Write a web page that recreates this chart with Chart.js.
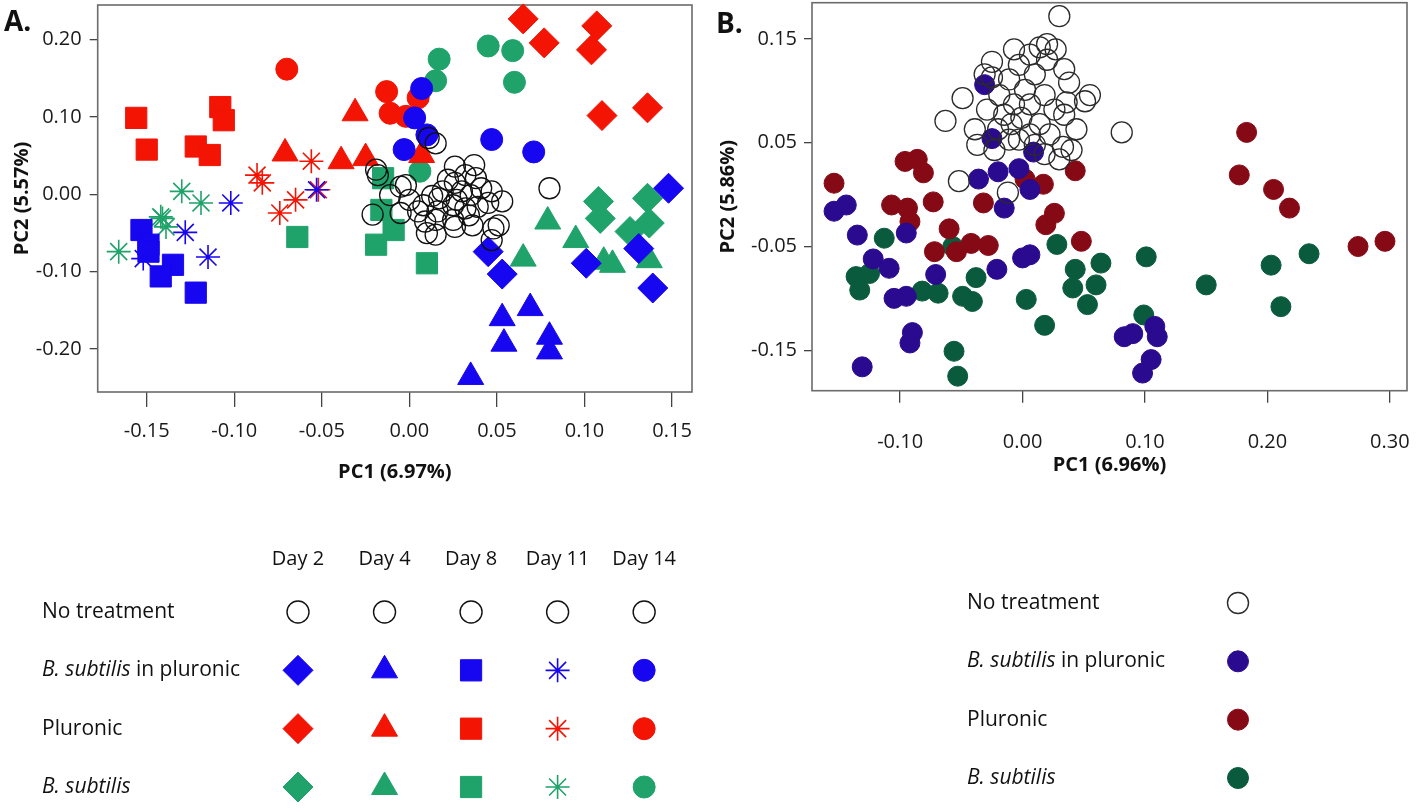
<!DOCTYPE html>
<html>
<head>
<meta charset="utf-8">
<script src="https://cdn.jsdelivr.net/npm/chart.js@4.4.0/dist/chart.umd.min.js"></script>
<style>
  html, body { margin: 0; padding: 0; background: #fff; }
  #page { position: relative; width: 1418px; height: 809px; overflow: hidden; }
  canvas { position: absolute; }
  .tag { position: absolute; font: bold 28px "Open Sans", sans-serif; line-height: 28px; color: #111; }
</style>
</head>
<body>
<div id="page">
  <canvas id="chartA" width="700" height="500" style="left:0;top:0"></canvas>
  <canvas id="chartB" width="718" height="500" style="left:700px;top:0"></canvas>
  <canvas id="legendA" width="709" height="309" style="left:0;top:500px"></canvas>
  <canvas id="legendB" width="518" height="269" style="left:900px;top:540px"></canvas>
  <div class="tag" style="left:4px;top:6px">A.</div>
  <div class="tag" style="left:716px;top:8px">B.</div>
</div>
<script>
const days = ["Day 2", "Day 4", "Day 8", "Day 11", "Day 14"];
const treatments = ["No treatment", "B. subtilis in pluronic", "Pluronic", "B. subtilis"];
const ticksAX = [-0.15, -0.10, -0.05, 0.00, 0.05, 0.10, 0.15];
const ticksAY = [0.20, 0.10, 0.00, -0.10, -0.20];
const ticksBX = [-0.10, 0.00, 0.10, 0.20, 0.30];
const ticksBY = [0.15, 0.05, -0.05, -0.15];

// Panel A scores, [PC1, PC2]
const aNoTreatment = [
  [0.015, 0.066], [0.011, 0.073], [-0.019, 0.032], [-0.018, 0.025], [-0.011, -0.001],
  [-0.005, 0.010], [-0.002, 0.012], [-0.021, -0.026], [-0.005, -0.024], [0.008, -0.014],
  [0.026, 0.036], [0.037, 0.038], [0.032, 0.025], [0.038, 0.021], [0.026, 0.015],
  [0.022, 0.019], [0.019, 0.004], [0.017, -0.005], [0.030, 0.004], [0.041, 0.008],
  [0.047, 0.004], [0.053, -0.009], [0.016, -0.022], [0.025, -0.014], [0.032, -0.018],
  [0.039, -0.016], [0.045, -0.011], [0.009, -0.035], [0.015, -0.033], [0.025, -0.033],
  [0.034, -0.027], [0.036, -0.040], [0.010, -0.050], [0.015, -0.052], [0.026, -0.042],
  [0.048, -0.044], [0.051, -0.040], [0.080, 0.008], [0.047, -0.059], [0.005, -0.022],
  [0.000, -0.007], [0.013, -0.002], [0.027, -0.007], [0.035, -0.001]
];
const aBspDay2 = [[0.148, 0.008], [0.045, -0.074], [0.053, -0.103], [0.101, -0.089], [0.131, -0.070], [0.139, -0.121]];
const aBspDay4 = [[0.069, -0.147], [0.053, -0.160], [0.054, -0.193], [0.080, -0.184], [0.080, -0.203], [0.035, -0.236]];
const aBspDay8 = [[-0.153, -0.046], [-0.149, -0.065], [-0.149, -0.074], [-0.135, -0.091], [-0.142, -0.106], [-0.122, -0.127]];
const aBspDay11 = [[-0.053, 0.006], [-0.102, -0.011], [-0.128, -0.049], [-0.115, -0.081], [-0.152, -0.083]];
const aBspDay14 = [[0.007, 0.137], [0.003, 0.099], [0.010, 0.077], [-0.003, 0.058], [0.047, 0.071], [0.071, 0.055]];
const aPluDay2 = [[0.065, 0.227], [0.077, 0.196], [0.107, 0.218], [0.104, 0.187], [0.110, 0.102], [0.136, 0.112]];
const aPluDay4 = [[-0.071, 0.053], [-0.031, 0.105], [-0.039, 0.043], [-0.025, 0.047], [0.007, 0.051]];
const aPluDay8 = [[-0.156, 0.099], [-0.150, 0.058], [-0.108, 0.113], [-0.106, 0.096], [-0.122, 0.062], [-0.114, 0.051]];
const aPluDay11 = [[-0.087, 0.025], [-0.084, 0.015], [-0.056, 0.043], [-0.074, -0.024], [-0.065, -0.007], [-0.052, 0.006]];
const aPluDay14 = [[-0.070, 0.162], [-0.013, 0.133], [-0.011, 0.105], [-0.002, 0.101], [0.005, 0.125]];
const aBsDay2 = [[0.108, -0.009], [0.109, -0.031], [0.136, -0.005], [0.137, -0.037], [0.126, -0.048]];
const aBsDay4 = [[0.079, -0.035], [0.095, -0.059], [0.065, -0.083], [0.111, -0.087], [0.116, -0.091], [0.137, -0.085]];
const aBsDay8 = [[-0.064, -0.055], [-0.015, 0.021], [-0.016, -0.020], [-0.009, -0.046], [-0.019, -0.065], [0.010, -0.089]];
const aBsDay11 = [[-0.130, 0.004], [-0.119, -0.011], [-0.141, -0.031], [-0.139, -0.042], [-0.166, -0.074], [-0.142, -0.029]];
const aBsDay14 = [[0.017, 0.175], [0.015, 0.147], [0.045, 0.192], [0.059, 0.186], [0.060, 0.145], [0.006, 0.030]];

// Panel B scores, [PC1, PC2]
const bNoTreatment = [
  [0.030, 0.172], [-0.031, 0.116], [-0.025, 0.113], [-0.049, 0.093], [-0.063, 0.071],
  [-0.037, 0.048], [-0.052, 0.013], [-0.012, 0.002], [0.027, 0.140], [0.034, 0.121],
  [0.038, 0.108], [0.051, 0.090], [0.036, 0.089], [0.034, 0.077], [0.044, 0.063],
  [0.033, 0.046], [0.081, 0.060], [-0.019, 0.096], [-0.011, 0.111], [-0.003, 0.125],
  [0.006, 0.135], [0.014, 0.142], [0.020, 0.130], [0.010, 0.116], [0.002, 0.101],
  [-0.007, 0.087], [-0.015, 0.077], [-0.020, 0.063], [-0.009, 0.068], [-0.001, 0.074],
  [0.006, 0.087], [0.018, 0.096], [0.026, 0.082], [0.014, 0.068], [0.006, 0.058],
  [-0.003, 0.053], [0.022, 0.058], [0.030, 0.034], [0.018, 0.039], [0.010, 0.048],
  [-0.029, 0.082], [-0.039, 0.063], [-0.023, 0.043], [-0.011, 0.053], [0.040, 0.043],
  [0.020, 0.145], [0.055, 0.096], [-0.007, 0.140], [-0.025, 0.128]
];
const bBspPluronic = [
  [-0.031, 0.106], [-0.025, 0.054], [0.009, 0.041], [-0.003, 0.025], [-0.020, 0.022],
  [-0.036, 0.015], [0.006, 0.005], [-0.154, -0.016], [-0.144, -0.010], [-0.135, -0.039],
  [-0.095, -0.037], [-0.122, -0.062], [-0.109, -0.071], [-0.071, -0.077], [-0.021, -0.072],
  [0.000, -0.061], [0.006, -0.058], [-0.105, -0.100], [-0.095, -0.098], [-0.090, -0.133],
  [-0.092, -0.143], [-0.131, -0.166], [-0.015, -0.013], [0.083, -0.137], [0.090, -0.134],
  [0.108, -0.127], [0.110, -0.137], [0.105, -0.159], [0.098, -0.172]
];
const bPluronic = [
  [-0.154, 0.011], [-0.096, 0.032], [-0.086, 0.034], [-0.081, 0.021], [0.002, 0.015],
  [0.017, 0.010], [-0.107, -0.010], [-0.094, -0.013], [-0.092, -0.026], [-0.073, -0.007],
  [-0.032, -0.008], [-0.060, -0.033], [-0.072, -0.055], [-0.054, -0.055], [-0.042, -0.047],
  [-0.028, -0.049], [0.019, -0.029], [0.026, -0.018], [0.043, 0.023], [0.183, 0.060],
  [0.177, 0.019], [0.205, 0.005], [0.218, -0.013], [0.274, -0.050], [0.296, -0.045],
  [0.048, -0.045]
];
const bBsubtilis = [
  [-0.136, -0.079], [-0.125, -0.076], [-0.133, -0.092], [-0.113, -0.042], [-0.082, -0.093],
  [-0.069, -0.095], [-0.049, -0.098], [-0.041, -0.103], [-0.038, -0.080], [0.003, -0.101],
  [0.018, -0.126], [-0.056, -0.151], [-0.053, -0.175], [-0.057, -0.050], [0.028, -0.048],
  [0.101, -0.060], [0.064, -0.066], [0.043, -0.072], [0.041, -0.090], [0.060, -0.087],
  [0.053, -0.106], [0.150, -0.087], [0.203, -0.068], [0.234, -0.057], [0.211, -0.108],
  [0.099, -0.116]
];

// Marker look
const dayStyles = ["rectRot", "triangle", "rect", "star", "circle"];
const dayRadius = [15, 15, 15, 12, 11];
const dayBorder = [1, 1, 1, 1.6, 1];
const colorsA = ["#111111", "#1706F0", "#F31404", "#1FA36A"];
const colorsB = ["#2b2b2b", "#2A0A8E", "#860A16", "#0A5A3E"];
const fontFamily = '"Open Sans", sans-serif';
const tickFont = { family: fontFamily, size: 20 };
const titleFont = { family: fontFamily, size: 20, weight: "bold" };
const italicPart = "B. subtilis";

function pts(arr) {
  return arr.map(p => ({ x: p[0], y: p[1] }));
}
function fmt(v) {
  return Math.abs(v) < 1e-9 ? "0.00" : v.toFixed(2);
}

// box around the plot area
const frame = {
  id: "frame",
  beforeDatasetsDraw(chart) {
    const a = chart.chartArea, ctx = chart.ctx;
    ctx.save();
    ctx.strokeStyle = "#6b6b6b";
    ctx.lineWidth = 1.6;
    ctx.strokeRect(a.left, a.top, a.right - a.left, a.bottom - a.top);
    ctx.restore();
  }
};

// treatment names with the species part in italics
const rowLabels = {
  id: "rowLabels",
  afterDraw(chart, args, opts) {
    const ctx = chart.ctx, ys = chart.scales.y;
    ctx.save();
    ctx.fillStyle = "#111";
    ctx.textBaseline = "middle";
    treatments.forEach((label, i) => {
      const y = ys.getPixelForValue(i);
      let x = opts.x;
      let parts = [[label, false]];
      if (label.startsWith(italicPart)) parts = [[italicPart, true], [label.slice(italicPart.length), false]];
      parts.forEach(p => {
        ctx.font = (p[1] ? "italic " : "") + "21px " + fontFamily;
        ctx.fillText(p[0], x, y);
        x += ctx.measureText(p[0]).width;
      });
    });
    ctx.restore();
  }
};

function scatterPanel(id, datasets, o) {
  return new Chart(document.getElementById(id), {
    type: "scatter",
    data: { datasets: datasets },
    options: {
      responsive: false,
      animation: false,
      events: [],
      layout: { padding: o.padding, autoPadding: false },
      plugins: { legend: { display: false }, tooltip: { enabled: false } },
      scales: {
        x: {
          type: "linear", position: "bottom", min: o.xMin, max: o.xMax,
          afterBuildTicks: s => { s.ticks = o.xTicks.map(v => ({ value: v })); },
          afterFit: s => { s.height = o.xHeight; s.paddingLeft = 0; s.paddingRight = 0; },
          ticks: { callback: fmt, autoSkip: false, maxRotation: 0, padding: o.xPad, color: "#1a1a1a", font: tickFont },
          grid: { drawOnChartArea: false, tickLength: o.xTickLen, color: "#444", lineWidth: 1.3 },
          border: { display: false },
          title: { display: true, text: o.xTitle, color: "#111", font: titleFont, padding: { top: 0, bottom: o.xTitlePad } }
        },
        y: {
          type: "linear", position: "left", min: o.yMin, max: o.yMax,
          afterBuildTicks: s => { s.ticks = o.yTicks.map(v => ({ value: v })); },
          afterFit: s => { s.width = o.yWidth; s.paddingTop = 0; s.paddingBottom = 0; },
          ticks: { callback: fmt, autoSkip: false, padding: o.yPad, color: "#1a1a1a", font: tickFont },
          grid: { drawOnChartArea: false, tickLength: 8, color: "#444", lineWidth: 1.3 },
          border: { display: false },
          title: { display: true, text: o.yTitle, color: "#111", font: titleFont, padding: { top: o.yTitlePad, bottom: 0 } }
        }
      }
    },
    plugins: [frame]
  });
}

// Panel A datasets: open circles first so they sit on top
const groupsA = [
  [aBspDay2, aBspDay4, aBspDay8, aBspDay11, aBspDay14],
  [aPluDay2, aPluDay4, aPluDay8, aPluDay11, aPluDay14],
  [aBsDay2, aBsDay4, aBsDay8, aBsDay11, aBsDay14]
];
const datasetsA = [{
  data: pts(aNoTreatment), pointStyle: "circle", pointRadius: 10.5,
  backgroundColor: "rgba(0,0,0,0)", borderColor: colorsA[0], borderWidth: 1.3, clip: false
}];
groupsA.forEach((group, g) => {
  group.forEach((arr, d) => {
    datasetsA.push({
      data: pts(arr), pointStyle: dayStyles[d], pointRadius: dayRadius[d],
      backgroundColor: colorsA[g + 1], borderColor: colorsA[g + 1], borderWidth: dayBorder[d], clip: false
    });
  });
});

scatterPanel("chartA", datasetsA, {
  padding: { left: 0, top: 5, right: 8, bottom: 0 },
  xMin: -0.178, xMax: 0.1614, xTicks: ticksAX, xHeight: 108, xPad: 12, xTickLen: 15,
  xTitle: "PC1 (6.97%)", xTitlePad: 16,
  yMin: -0.2555, yMax: 0.245, yTicks: ticksAY, yWidth: 97.7, yPad: 8,
  yTitle: "PC2 (5.57%)", yTitlePad: 10
});

const seriesB = [bNoTreatment, bBspPluronic, bPluronic, bBsubtilis];
const datasetsB = seriesB.map((arr, i) => ({
  data: pts(arr), pointStyle: "circle", pointRadius: i === 0 ? 10.5 : 10,
  backgroundColor: i === 0 ? "rgba(0,0,0,0)" : colorsB[i], borderColor: colorsB[i],
  borderWidth: i === 0 ? 1.3 : 1, clip: false
}));

scatterPanel("chartB", datasetsB, {
  padding: { left: 0, top: 2.7, right: 11, bottom: 0 },
  xMin: -0.172, xMax: 0.314, xTicks: ticksBX, xHeight: 109.3, xPad: 28, xTickLen: 12,
  xTitle: "PC1 (6.96%)", xTitlePad: 23,
  yMin: -0.189, yMax: 0.185, yTicks: ticksBY, yWidth: 112, yPad: 7,
  yTitle: "PC2 (5.86%)", yTitlePad: 16
});

// Legend for panel A: treatments x days grid
new Chart(document.getElementById("legendA"), {
  type: "scatter",
  data: {
    datasets: treatments.map((t, i) => ({
      data: days.map(d => ({ x: d, y: t })),
      pointStyle: i === 0 ? "circle" : dayStyles,
      pointRadius: i === 0 ? 11 : dayRadius,
      backgroundColor: i === 0 ? "rgba(0,0,0,0)" : colorsA[i],
      borderColor: colorsA[i],
      borderWidth: i === 0 ? 1.4 : dayBorder,
      clip: false
    }))
  },
  options: {
    responsive: false, animation: false, events: [],
    layout: { padding: { left: 298, right: 61, top: 0, bottom: 22 }, autoPadding: false },
    plugins: { legend: { display: false }, tooltip: { enabled: false }, rowLabels: { x: 42 } },
    scales: {
      x: {
        type: "category", labels: days, position: "top", offset: false,
        afterFit: s => { s.height = 112; },
        grid: { display: false }, border: { display: false },
        ticks: { padding: 33, color: "#111", font: { family: fontFamily, size: 20 } }
      },
      y: { type: "category", labels: treatments, display: false, offset: false }
    }
  },
  plugins: [rowLabels]
});

// Legend for panel B
new Chart(document.getElementById("legendB"), {
  type: "scatter",
  data: {
    datasets: treatments.map((t, i) => ({
      data: [{ x: "key", y: t }],
      pointStyle: "circle", pointRadius: 10.5,
      backgroundColor: i === 0 ? "rgba(0,0,0,0)" : colorsB[i],
      borderColor: colorsB[i], borderWidth: i === 0 ? 1.4 : 1, clip: false
    }))
  },
  options: {
    responsive: false, animation: false, events: [],
    layout: { padding: { left: 318, right: 160, top: 63, bottom: 31 }, autoPadding: false },
    plugins: { legend: { display: false }, tooltip: { enabled: false }, rowLabels: { x: 67 } },
    scales: {
      x: { type: "category", labels: ["key"], display: false, offset: true },
      y: { type: "category", labels: treatments, display: false, offset: false }
    }
  },
  plugins: [rowLabels]
});
</script>
</body>
</html>
